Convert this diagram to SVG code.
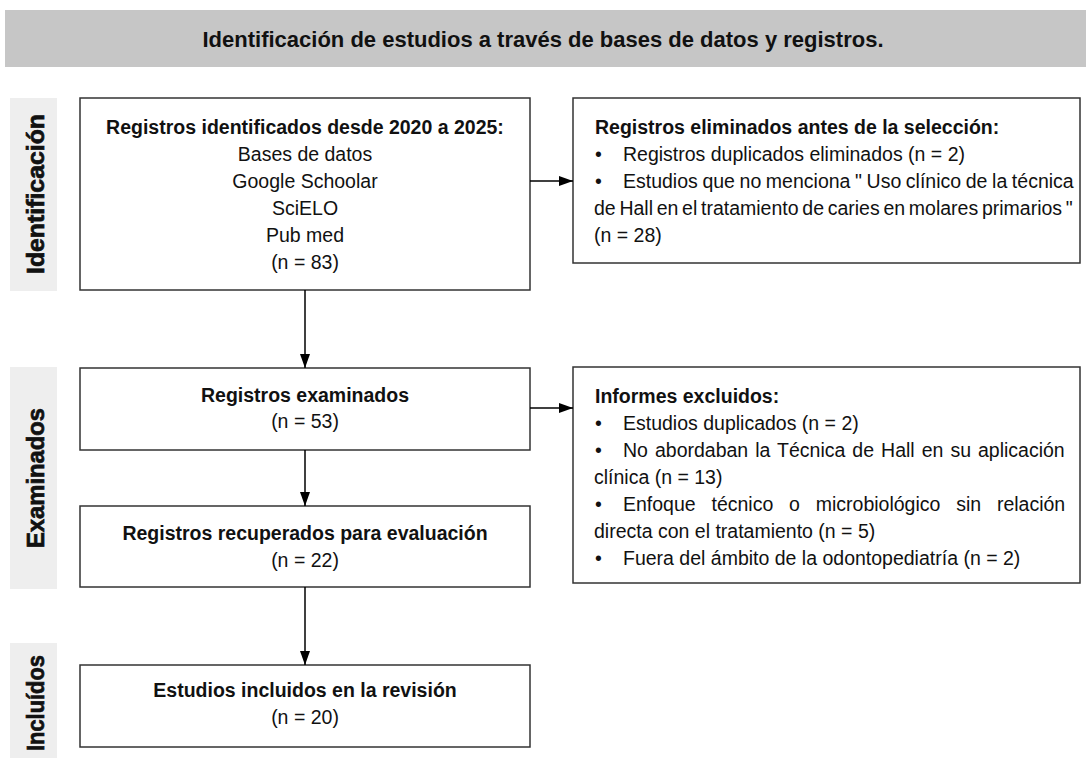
<svg xmlns="http://www.w3.org/2000/svg" width="1086" height="764" viewBox="0 0 1086 764">
<defs>
<marker id="ah" markerUnits="userSpaceOnUse" markerWidth="14" markerHeight="10" refX="14" refY="5" orient="auto">
<path d="M0,0 L14,5 L0,10 z" fill="#000"/>
</marker>
<style>
.box{fill:#fff;stroke:#333;stroke-width:1.5}
.lab{fill:#eeeeee}
.t{font-family:"Liberation Sans",Arial,sans-serif;font-size:19.5px;fill:#111}
.b{font-weight:bold}
.c{text-anchor:middle}
.lt{font-family:"Liberation Sans",Arial,sans-serif;font-size:24px;font-weight:bold;fill:#111;stroke:#111;stroke-width:0.7;text-anchor:middle}
.ttl{font-family:"Liberation Sans",Arial,sans-serif;font-size:22px;font-weight:bold;fill:#111;text-anchor:middle}
.conn{stroke:#000;stroke-width:1.5;fill:none}
</style>
</defs>
<rect x="0" y="0" width="1086" height="764" fill="#fff"/>
<g id="header">
<rect x="5" y="10" width="1081" height="57" fill="#c6c6c6"/>
<text class="ttl" x="543" y="47">Identificación de estudios a través de bases de datos y registros.</text>
</g>
<g id="label-identificacion">
<rect class="lab" x="10" y="98" width="47" height="193"/>
<text class="lt" transform="translate(44,194) rotate(-90)" textLength="160" lengthAdjust="spacingAndGlyphs">Identificación</text>
</g>
<g id="label-examinados">
<rect class="lab" x="10" y="367" width="47" height="222"/>
<text class="lt" transform="translate(44,478) rotate(-90)" textLength="140" lengthAdjust="spacingAndGlyphs">Examinados</text>
</g>
<g id="label-incluidos">
<rect class="lab" x="10" y="643" width="47" height="115"/>
<text class="lt" transform="translate(44,703) rotate(-90)" textLength="96" lengthAdjust="spacingAndGlyphs">Incluídos</text>
</g>
<g id="node-identificados">
<rect class="box" x="80" y="98" width="450" height="192"/>
<text class="t b c" x="305" y="134">Registros identificados desde 2020 a 2025:</text>
<text class="t c" x="305" y="161">Bases de datos</text>
<text class="t c" x="305" y="188">Google Schoolar</text>
<text class="t c" x="305" y="215">SciELO</text>
<text class="t c" x="305" y="242">Pub med</text>
<text class="t c" x="305" y="269">(n = 83)</text>
</g>
<g id="node-eliminados">
<rect class="box" x="573" y="98" width="507" height="165"/>
<text class="t b" x="595" y="134">Registros eliminados antes de la selección:</text>
<text class="t" x="595" y="161">•</text>
<text class="t" x="623" y="161">Registros duplicados eliminados (n = 2)</text>
<text class="t" x="595" y="188">•</text>
<text class="t" x="623" y="188" word-spacing="-0.8">Estudios que no menciona " Uso clínico de la técnica</text>
<text class="t" x="594" y="215" word-spacing="-1.7">de Hall en el tratamiento de caries en molares primarios "</text>
<text class="t" x="594" y="242">(n = 28)</text>
</g>
<g id="node-examinados">
<rect class="box" x="80" y="368" width="450" height="82"/>
<text class="t b c" x="305" y="402">Registros examinados</text>
<text class="t c" x="305" y="428">(n = 53)</text>
</g>
<g id="node-excluidos">
<rect class="box" x="573" y="367" width="507" height="216"/>
<text class="t b" x="595" y="403">Informes excluidos:</text>
<text class="t" x="595" y="430">•</text>
<text class="t" x="623" y="430">Estudios duplicados (n = 2)</text>
<text class="t" x="595" y="457">•</text>
<text class="t" x="623" y="457" word-spacing="1.6">No abordaban la Técnica de Hall en su aplicación</text>
<text class="t" x="594" y="484">clínica (n = 13)</text>
<text class="t" x="595" y="511">•</text>
<text class="t" x="623" y="511" word-spacing="10.4">Enfoque técnico o microbiológico sin relación</text>
<text class="t" x="594" y="538">directa con el tratamiento (n = 5)</text>
<text class="t" x="595" y="565">•</text>
<text class="t" x="623" y="565">Fuera del ámbito de la odontopediatría (n = 2)</text>
</g>
<g id="node-recuperados">
<rect class="box" x="80" y="506" width="450" height="81"/>
<text class="t b c" x="305" y="540">Registros recuperados para evaluación</text>
<text class="t c" x="305" y="567">(n = 22)</text>
</g>
<g id="node-incluidos">
<rect class="box" x="80" y="665" width="450" height="82"/>
<text class="t b c" x="305" y="697">Estudios incluidos en la revisión</text>
<text class="t c" x="305" y="724">(n = 20)</text>
</g>
<g id="connectors">
<line class="conn" x1="305" y1="290" x2="305" y2="368" marker-end="url(#ah)"/>
<line class="conn" x1="305" y1="450" x2="305" y2="506" marker-end="url(#ah)"/>
<line class="conn" x1="305" y1="587" x2="305" y2="665" marker-end="url(#ah)"/>
<line class="conn" x1="530" y1="181" x2="573" y2="181" marker-end="url(#ah)"/>
<line class="conn" x1="530" y1="408" x2="573" y2="408" marker-end="url(#ah)"/>
</g>
</svg>
